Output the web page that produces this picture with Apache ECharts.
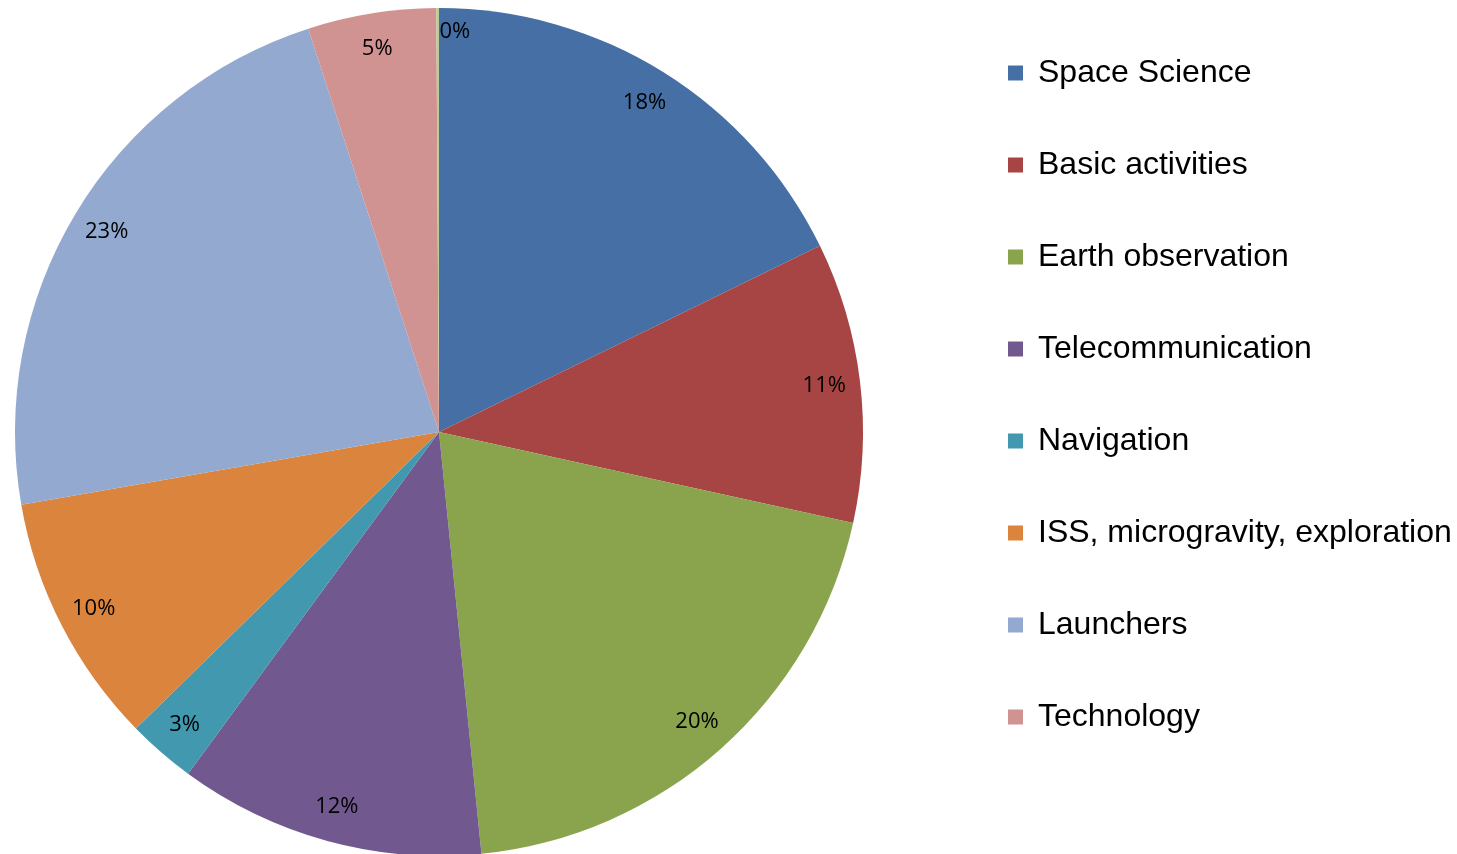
<!DOCTYPE html>
<html>
<head>
<meta charset="utf-8">
<script src="https://cdn.jsdelivr.net/npm/echarts@6/dist/echarts.min.js"></script>
<style>html,body{margin:0;padding:0;background:#fff}#c{width:1457px;height:854px}</style>
</head>
<body>
<div id="c"></div>
<script>
const categories = ["Space Science", "Basic activities", "Earth observation", "Telecommunication", "Navigation", "ISS, microgravity, exploration", "Launchers", "Technology", "Other"];
const values = [17.8, 10.7, 20.0, 11.7, 2.6, 9.6, 22.8, 4.9, 0.1];
const colors = ["#4670A5", "#A64544", "#89A44D", "#71588F", "#4198AF", "#DB843D", "#93A9CF", "#D19392", "#B9CD96"];
const legendNames = categories.slice(0, 8);

const total = values.reduce((a, b) => a + b, 0);
const data = categories.map((n, i) => ({ name: n, value: values[i], itemStyle: { color: colors[i] } }));
const labelData = categories.map((n, i) => {
  const d = { name: n, value: values[i] };
  if (i === 8) d.label = { offset: [17, -12] };
  return d;
});

const chart = echarts.init(document.getElementById('c'), null, { renderer: 'canvas' });
chart.setOption({
  animation: false,
  color: colors,
  legend: {
    data: legendNames,
    orient: 'vertical',
    left: 1003,
    top: 52,
    icon: 'rect',
    itemWidth: 15,
    itemHeight: 15,
    itemGap: 60,
    selectedMode: false,
    textStyle: { fontFamily: 'Liberation Sans, Arial, sans-serif', fontSize: 32, lineHeight: 32, color: '#000', padding: [0, 0, 0, 10] }
  },
  series: [
    {
      type: 'pie',
      center: [439, 432],
      radius: [0, 424],
      startAngle: 90,
      clockwise: true,
      silent: true,
      label: { show: false },
      labelLine: { show: false },
      data: data
    },
    {
      type: 'pie',
      center: [439, 432],
      radius: [347, 423],
      startAngle: 90,
      clockwise: true,
      silent: true,
      itemStyle: { color: 'rgba(0,0,0,0)' },
      label: {
        show: true,
        position: 'inside',
        fontFamily: 'Open Sans, Liberation Sans, sans-serif',
        fontSize: 22,
        color: '#000',
        formatter: p => Math.round(p.value / total * 100) + '%'
      },
      labelLine: { show: false },
      data: labelData
    }
  ]
});
</script>
</body>
</html>
